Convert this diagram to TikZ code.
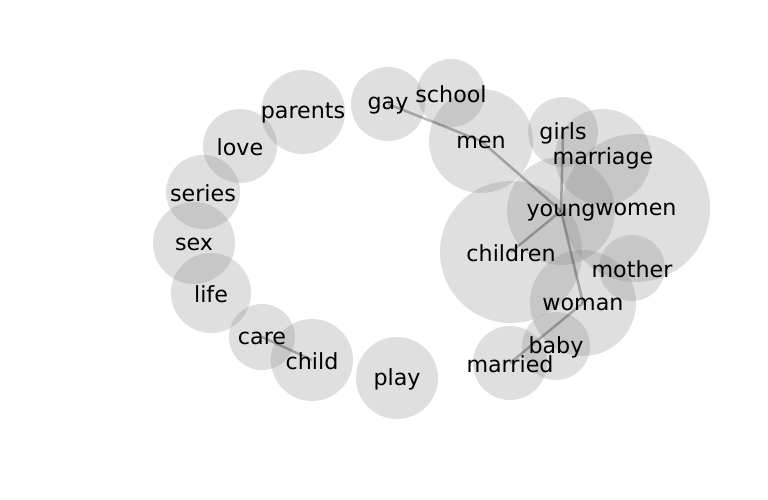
\documentclass[tikz,border=0pt]{standalone}
\usepackage{fontspec}
\setmainfont{DejaVu Sans}
\begin{document}
\begin{tikzpicture}[x=1pt,y=-1pt,
  bub/.style={circle,fill=black!50,fill opacity=0.25,draw=none,inner sep=0pt,minimum size=#1},
  edge/.style={draw=black,opacity=0.27,line width=2.5pt},
  lab/.style={font=\fontsize{22.2}{26}\selectfont,text=black,inner sep=0pt}]
\useasboundingbox (0,0) rectangle (768,500);
% bubbles
\foreach \n/\x/\y/\r in {parents/303/112/42, gay/388/104/37, school/451/93/34,
  love/240/146/37, series/203/192/37, sex/194/243/41, life/211/293/40,
  care/262/337/33, child/312/360/41, play/397/378/41, men/481/141/52,
  girls/563/132/35, marriage/603/157/48, women/636/208/74, young/561/211/54,
  children/511/252/71, mother/632/268/33, woman/583/303/53, baby/556/346/34,
  married/510/363/37}{
  \node[bub=2*\r pt] (\n) at (\x,\y) {};
}
% edges
\draw[edge] (gay.center) -- (men.center);
\draw[edge] (men.center) -- (young.center);
\draw[edge] (girls.center) -- (young.center);
\draw[edge] (young.center) -- (children.center);
\draw[edge] (young.center) -- (woman.center);
\draw[edge] (woman.center) -- (married.center);
\draw[edge] (care.center) -- (child.center);
% labels
\foreach \n in {parents,gay,school,love,series,sex,life,care,child,play,men,
  girls,marriage,women,young,children,mother,woman,baby,married}{
  \node[lab,yshift=-1.5pt] (l-\n) at (\n.center) {\n};
}
\end{tikzpicture}
\end{document}
